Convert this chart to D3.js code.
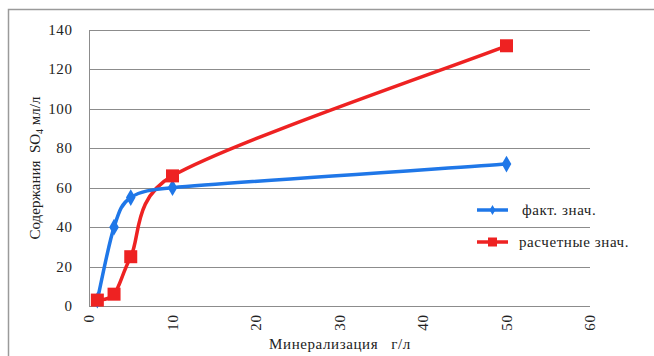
<!DOCTYPE html>
<html>
<head>
<meta charset="utf-8">
<script src="https://cdn.jsdelivr.net/npm/d3@7/dist/d3.min.js"></script>
<style>
  html, body { margin: 0; padding: 0; background: #fff; }
  svg { display: block; }
</style>
</head>
<body>
<svg id="chart" width="654" height="356"></svg>
<script>
// Mineralization, g/l
const mineral = [1, 3, 5, 10, 50];
// Measured SO4 content
const factValues = [3, 40, 55, 60, 72];
// Calculated SO4 content
const calcValues = [3, 6, 25, 66, 132];
const seriesNames = ["факт. знач.", "расчетные знач."];
const xTicks = [0, 10, 20, 30, 40, 50, 60];
const yTicks = [0, 20, 40, 60, 80, 100, 120, 140];

const serif = "'Liberation Serif', 'Times New Roman', serif";
const fontSize = 15, spacing = 0.6;
const svg = d3.select("#chart")
  .attr("font-family", serif)
  .style("font-family", serif);
const plot = { left: 89, right: 590, top: 30, bottom: 306 };

const x = d3.scaleLinear().domain([0, 60]).range([plot.left, plot.right]);
const y = d3.scaleLinear().domain([0, 140]).range([plot.bottom, plot.top]);

// Spreadsheet-style smoothing: cubic Bezier segments with Catmull-Rom
// tangents (chord/6), each handle limited to half of its own segment.
function SmoothCurve(context) { this._context = context; }
SmoothCurve.prototype = {
  areaStart() { this._line = 0; },
  areaEnd() { this._line = NaN; },
  lineStart() { this._pts = []; },
  point(px, py) { this._pts.push([+px, +py]); },
  lineEnd() {
    const p = this._pts, n = p.length, ctx = this._context;
    if (!n) return;
    ctx.moveTo(p[0][0], p[0][1]);
    const dist = (a, b) => Math.hypot(b[0] - a[0], b[1] - a[1]);
    const clampH = (tx, ty, maxLen) => {
      const len = Math.hypot(tx, ty);
      const s = len > maxLen && len > 0 ? maxLen / len : 1;
      return [tx * s, ty * s];
    };
    const outH = [], inH = [];
    for (let i = 0; i < n; i++) {
      const prev = p[Math.max(i - 1, 0)], next = p[Math.min(i + 1, n - 1)];
      const tx = (next[0] - prev[0]) / 6, ty = (next[1] - prev[1]) / 6;
      const dPrev = i > 0 ? dist(p[i - 1], p[i]) : 0;
      const dNext = i < n - 1 ? dist(p[i], p[i + 1]) : 0;
      outH.push(clampH(tx, ty, dNext * 0.5));
      inH.push(clampH(tx, ty, dPrev * 0.5));
    }
    for (let i = 0; i < n - 1; i++) {
      ctx.bezierCurveTo(
        p[i][0] + outH[i][0], p[i][1] + outH[i][1],
        p[i + 1][0] - inH[i + 1][0], p[i + 1][1] - inH[i + 1][1],
        p[i + 1][0], p[i + 1][1]);
    }
  }
};
const curveSmooth = context => new SmoothCurve(context);

// outer frame (top and left edges)
svg.append("path")
  .attr("d", "M8.5,356 V9.5 H654")
  .attr("fill", "none").attr("stroke", "#9a9a9a").attr("stroke-width", 1.5);

// horizontal gridlines
svg.append("g").selectAll("line").data(yTicks).join("line")
  .attr("x1", plot.left).attr("x2", plot.right)
  .attr("y1", d => Math.round(y(d)) + 0.5).attr("y2", d => Math.round(y(d)) + 0.5)
  .attr("stroke", "#8c8c8c").attr("stroke-width", 1);

// vertical axis line
svg.append("line")
  .attr("x1", plot.left + 0.5).attr("x2", plot.left + 0.5)
  .attr("y1", plot.top).attr("y2", plot.bottom)
  .attr("stroke", "#8c8c8c").attr("stroke-width", 1);

const label = sel => sel
  .attr("font-size", fontSize).attr("letter-spacing", spacing).attr("fill", "#222");

// y tick labels
svg.append("g").selectAll("text").data(yTicks).join("text")
  .attr("x", 72.5).attr("y", d => y(d) + 5)
  .attr("text-anchor", "end").call(label)
  .text(d => d);

// x tick labels, rotated
svg.append("g").selectAll("text").data(xTicks).join("text")
  .attr("transform", d => `translate(${x(d) + 5},314.5) rotate(-90)`)
  .attr("text-anchor", "end").call(label)
  .text(d => d);

// axis titles
const yTitle = svg.append("text")
  .attr("transform", "translate(40,168) rotate(-90)")
  .attr("text-anchor", "middle").call(label)
  .attr("letter-spacing", 0)
  .attr("xml:space", "preserve");
yTitle.append("tspan").text("Содержания  SO");
yTitle.append("tspan").attr("font-size", 10).attr("dy", 3).text("4");
yTitle.append("tspan").attr("dy", -3).text(" мл/л");

svg.append("text")
  .attr("x", 340).attr("y", 349)
  .attr("text-anchor", "middle").call(label)
  .attr("xml:space", "preserve")
  .text("Минерализация   г/л");

const line = d3.line()
  .x(d => x(d[0])).y(d => y(d[1]))
  .curve(curveSmooth);

const blue = "#1f77e8", red = "#ee2222";
const factData = mineral.map((m, i) => [m, factValues[i]]);
const calcData = mineral.map((m, i) => [m, calcValues[i]]);

// calculated series (red, squares)
svg.append("path").datum(calcData)
  .attr("d", line).attr("fill", "none")
  .attr("stroke", red).attr("stroke-width", 3.5);

// measured series (blue, diamonds)
svg.append("path").datum(factData)
  .attr("d", line).attr("fill", "none")
  .attr("stroke", blue).attr("stroke-width", 3.5);

svg.append("g").selectAll("path").data(factData).join("path")
  .attr("d", d3.symbol(d3.symbolDiamond, 80))
  .attr("transform", d => `translate(${x(d[0])},${y(d[1])})`)
  .attr("fill", blue);

svg.append("g").selectAll("rect").data(calcData).join("rect")
  .attr("x", d => x(d[0]) - 6.5).attr("y", d => y(d[1]) - 6.5)
  .attr("width", 13).attr("height", 13)
  .attr("fill", red);

// legend
const legend = svg.append("g");
const legY = [210, 242];
legend.append("line").attr("x1", 477).attr("x2", 508).attr("y1", legY[0]).attr("y2", legY[0])
  .attr("stroke", blue).attr("stroke-width", 3.5);
legend.append("path").attr("d", d3.symbol(d3.symbolDiamond, 30))
  .attr("transform", `translate(492.5,${legY[0]})`).attr("fill", blue);
legend.append("text").attr("x", 522).attr("y", legY[0] + 5).call(label).text(seriesNames[0]);

legend.append("line").attr("x1", 477).attr("x2", 508).attr("y1", legY[1]).attr("y2", legY[1])
  .attr("stroke", red).attr("stroke-width", 3.5);
legend.append("rect").attr("x", 488).attr("y", legY[1] - 4.5).attr("width", 9).attr("height", 9).attr("fill", red);
legend.append("text").attr("x", 519).attr("y", legY[1] + 5).call(label).text(seriesNames[1]);
</script>
</body>
</html>
